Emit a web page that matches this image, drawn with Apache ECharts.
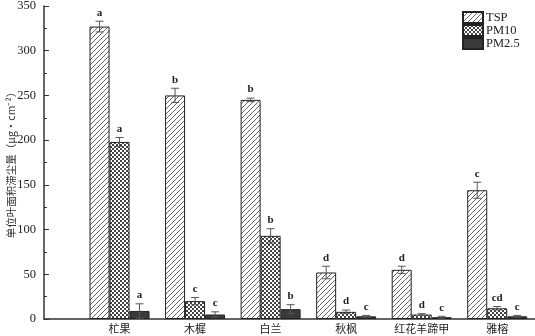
<!DOCTYPE html>
<html>
<head>
<meta charset="utf-8">
<script src="https://cdn.jsdelivr.net/npm/echarts@6/dist/echarts.min.js"></script>
<style>
  html, body { margin: 0; padding: 0; background: #fff; }
  #chart { width: 535px; height: 336px; }
</style>
</head>
<body>
<div id="chart"></div>
<script>
// tree species
const species = ['杧果', '木樨', '白兰', '秋枫', '红花羊蹄甲', '雅榕'];

const tsp     = [327, 250, 245, 52, 55, 144];
const tspErr  = [6, 8, 2, 7, 4, 9];
const tspSig  = ['a', 'b', 'b', 'd', 'd', 'c'];

const pm10    = [198, 20, 93, 8, 5, 12];
const pm10Err = [5, 4, 8, 2, 1, 2];
const pm10Sig = ['a', 'c', 'b', 'd', 'd', 'cd'];

const pm25    = [9, 5, 11, 3, 2, 3];
const pm25Err = [8, 3, 5, 1, 1, 1];
const pm25Sig = ['a', 'c', 'b', 'c', 'c', 'c'];

// the axis runs in half steps: empty slots between species, one
// step of room before the first one and half a step after the last one
const SLOTS = 14;
const slotOf = i => 2 + 2 * i;
const axisCats = [];
for (let k = 0; k < SLOTS; k++) axisCats.push('');
species.forEach((s, i) => { axisCats[slotOf(i)] = s; });

function spread(values) {
    let out = new Array(SLOTS).fill(null);
    values.forEach((v, i) => { out[slotOf(i)] = v; });
    return out;
}

const serif = '"Liberation Serif", "Times New Roman", serif';
const cjk = '"Noto Sans CJK SC", sans-serif';

// --- fill patterns -------------------------------------------------------
function hatchTile() {
    let s = 5;
    let c = document.createElement('canvas');
    c.width = s; c.height = s;
    let g = c.getContext('2d');
    g.fillStyle = '#fff';
    g.fillRect(0, 0, s, s);
    g.strokeStyle = '#555';
    g.lineWidth = 0.9;
    g.beginPath();
    g.moveTo(-1, s + 1); g.lineTo(s + 1, -1);
    g.moveTo(-1, 1); g.lineTo(1, -1);
    g.moveTo(s - 1, s + 1); g.lineTo(s + 1, s - 1);
    g.stroke();
    return c;
}
function checkTile() {
    let c = document.createElement('canvas');
    c.width = 4; c.height = 4;
    let g = c.getContext('2d');
    g.fillStyle = '#fff';
    g.fillRect(0, 0, 4, 4);
    g.fillStyle = '#444';
    g.fillRect(0, 0, 2, 2);
    g.fillRect(2, 2, 2, 2);
    return c;
}

const barW = 20;

function barSeries(name, values, fill) {
    return {
        name: name,
        type: 'bar',
        data: spread(values),
        barWidth: barW,
        barGap: '0%',
        itemStyle: { color: fill, borderColor: '#222', borderWidth: 1 },
        z: 2
    };
}

// error bar + significance letter, shifted onto its bar
function errSeries(name, values, errs, sigs, shift) {
    return {
        name: name + '-err',
        type: 'custom',
        data: values.map((v, i) => [slotOf(i), v, errs[i]]),
        z: 5,
        renderItem: function (params, api) {
            let x = api.value(0), v = api.value(1), e = api.value(2);
            let top = api.coord([x, v + e]);
            let bot = api.coord([x, Math.max(v - e, 0)]);
            let cx = top[0] + shift;
            let cap = 4;
            let st = { stroke: '#555', lineWidth: 1 };
            return {
                type: 'group',
                children: [
                    { type: 'line', shape: { x1: cx, y1: top[1], x2: cx, y2: bot[1] }, style: st },
                    { type: 'line', shape: { x1: cx - cap, y1: top[1], x2: cx + cap, y2: top[1] }, style: st },
                    { type: 'line', shape: { x1: cx - cap, y1: bot[1], x2: cx + cap, y2: bot[1] }, style: st },
                    {
                        type: 'text',
                        style: {
                            text: sigs[params.dataIndex],
                            x: cx, y: top[1] - 3,
                            align: 'center', verticalAlign: 'bottom',
                            font: 'bold 11px ' + serif,
                            fill: '#222'
                        }
                    }
                ]
            };
        }
    };
}

let chart = echarts.init(document.getElementById('chart'), null, { renderer: 'canvas' });

chart.setOption({
    animation: false,
    backgroundColor: '#fff',
    grid: { left: 44, right: 0, top: 6, bottom: 17, outerBoundsMode: 'none', containLabel: false },
    legend: {
        left: 457, top: 6,
        orient: 'vertical',
        itemGap: 0,
        itemWidth: 20,
        itemHeight: 11,
        icon: 'rect',
        data: ['TSP', 'PM10', 'PM2.5'],
        textStyle: { fontFamily: serif, fontSize: 12.5, color: '#222', padding: [0, 0, 0, -2] },
        selectedMode: false
    },
    xAxis: {
        type: 'category',
        data: axisCats,
        boundaryGap: false,
        axisLine: { show: true, lineStyle: { color: '#333', width: 1.5 } },
        axisTick: { show: false },
        axisLabel: { interval: 0, margin: 4, fontFamily: cjk, fontSize: 11, color: '#222' },
        splitLine: { show: false }
    },
    yAxis: {
        type: 'value',
        min: 0, max: 350, interval: 50,
        name: '单位叶面积滞尘量（μg·cm⁻²）',
        nameLocation: 'middle',
        nameRotate: 90,
        nameGap: 28,
        nameMoveOverlap: false,
        nameTextStyle: { fontFamily: cjk, fontSize: 10.5, color: '#333' },
        axisLine: { show: true, lineStyle: { color: '#333', width: 1.5 } },
        axisTick: { show: true, inside: true, length: 5, lineStyle: { color: '#333' } },
        minorTick: { show: true, splitNumber: 2, length: 3, lineStyle: { color: '#333' } },
        axisLabel: { fontFamily: serif, fontSize: 12.5, color: '#222', margin: 8 },
        splitLine: { show: false }
    },
    series: [
        barSeries('TSP', tsp, { image: hatchTile(), repeat: 'repeat' }),
        barSeries('PM10', pm10, { image: checkTile(), repeat: 'repeat' }),
        barSeries('PM2.5', pm25, '#3a3a3a'),
        errSeries('TSP', tsp, tspErr, tspSig, -barW),
        errSeries('PM10', pm10, pm10Err, pm10Sig, 0),
        errSeries('PM2.5', pm25, pm25Err, pm25Sig, barW)
    ]
});
</script>
</body>
</html>
